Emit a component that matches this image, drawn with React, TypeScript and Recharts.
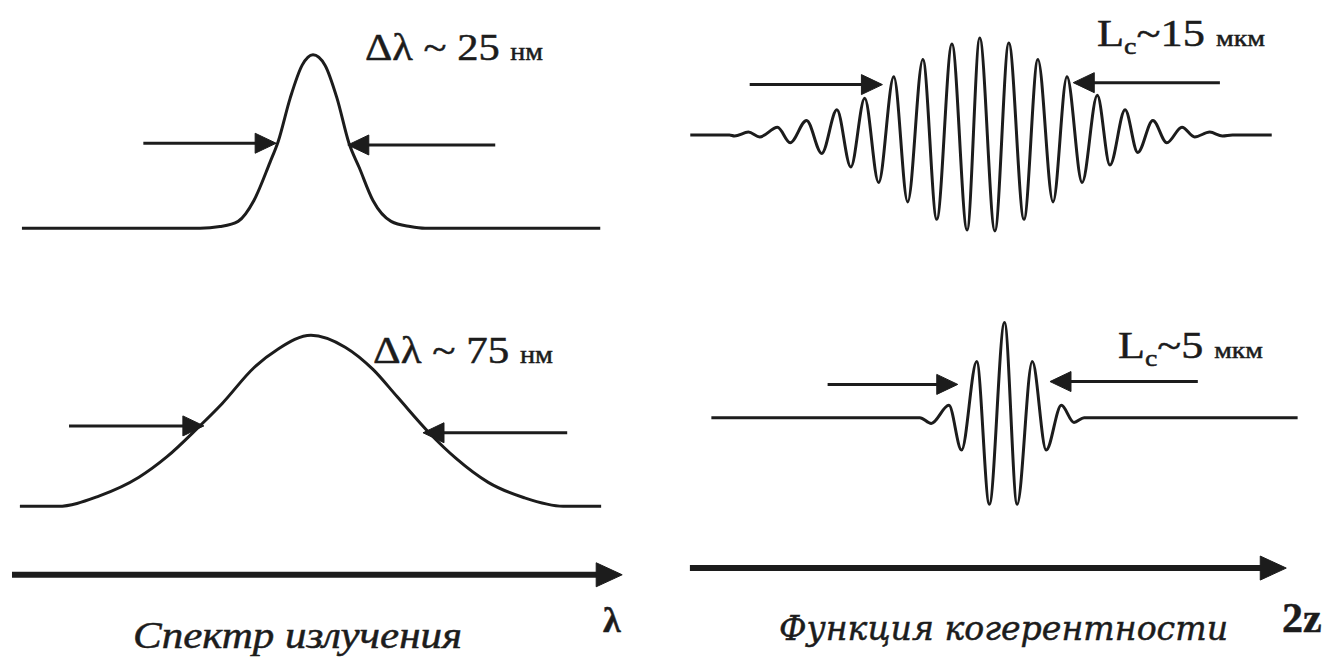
import React from 'react';
import { LineChart, Line, XAxis, YAxis, ReferenceLine } from 'recharts';

// ---- Spectrum, Δλ ~ 25 nm (x: wavelength offset, nm; y: normalised intensity)
const narrowSpecX = [-98.5, -37.6, -30.8, -24.6, -19.2, -13.7, -10.9, -6.8, -2.7, 1.0, 5.1, 9.2, 13.3, 16.8, 21.5, 27.7, 34.2, 39.3, 99.2];
const narrowSpecY = [0, 0, 0.01, 0.04, 0.16, 0.38, 0.5, 0.75, 0.94, 1.0, 0.94, 0.75, 0.49, 0.35, 0.16, 0.04, 0.01, 0, 0];

// ---- Spectrum, Δλ ~ 75 nm
const wideSpecX = [-99.2, -86.2, -72.2, -58.5, -48.9, -38.3, -30.1, -19.2, -10.9, 0.3, 12.0, 21.5, 29.8, 40.7, 49.9, 60.9, 73.2, 86.5, 99.5];
const wideSpecY = [0, 0, 0.06, 0.17, 0.29, 0.46, 0.6, 0.81, 0.92, 1.0, 0.93, 0.8, 0.64, 0.43, 0.28, 0.14, 0.05, 0, 0];

// ---- Coherence function, Lc ~ 15 µm (x: 2z, µm; y: normalised amplitude)
const longCohX = [-23.0, -19.9, -19.5, -18.4, -17.5, -16.1, -15.1, -13.8, -12.6, -11.4, -10.3, -9.2, -8.1, -6.9, -5.8, -4.6, -3.5, -2.3, -1.1, -0.1, 1.1, 2.2, 3.4, 4.5, 5.7, 6.8, 8.0, 9.2, 10.2, 11.4, 12.4, 13.6, 14.7, 15.9, 16.9, 18.1, 19.1, 19.9, 23.0];
const longCohY = [0, 0, -0.01, 0.03, -0.02, 0.08, -0.08, 0.15, -0.19, 0.26, -0.33, 0.38, -0.49, 0.6, -0.69, 0.78, -0.87, 0.94, -0.98, 1.0, -0.99, 0.95, -0.87, 0.78, -0.69, 0.6, -0.49, 0.41, -0.31, 0.26, -0.18, 0.15, -0.08, 0.08, -0.02, 0.03, -0.01, 0, 0];

// ---- Coherence function, Lc ~ 5 µm
const shortCohX = [-23.2, -6.7, -5.8, -4.4, -3.4, -2.2, -1.2, 0, 1.0, 2.2, 3.3, 4.5, 5.5, 6.3, 23.2];
const shortCohY = [0, 0, -0.06, 0.13, -0.34, 0.59, -0.91, 1.0, -0.91, 0.59, -0.34, 0.13, -0.05, 0, 0];

// ---- width markers: [from x, to x (arrow tip), level]
const narrowArrows = [[-57.0, -11.6, 0.49], [63.3, 12.9, 0.48]];
const wideArrows = [[-82.4, -36.3, 0.47], [87.9, 38.6, 0.43]];
const longArrows = [[-18.3, -7.8, 0.52], [18.9, 7.3, 0.54]];
const shortArrows = [[-14.0, -3.7, 0.35], [15.3, 3.6, 0.38]];

// ---- axis arrows: [from x, to x, level]
const lambdaAxis = [-101.9, 106.7, -0.4];
const zAxis = [-24.9, 22.3, -1.58];

// ---- texts
const narrowLabel = ['Δλ ~ 25 ', 'нм'];
const wideLabel = ['Δλ ~ 75 ', 'нм'];
const longLabel = ['L', 'c', '~15 ', 'мкм'];
const shortLabel = ['L', 'c', '~5 ', 'мкм'];
const axisTitles = ['λ', '2z'];
const captions = ['Спектр  излучения', 'Функция когерентности'];

const INK = '#1c1c1c';
const SERIF = '"Times New Roman", Tinos, "Liberation Serif", serif';
const SERIF2 = '"DejaVu Serif", serif';

const arrowShape = (w: number, len: number, half: number) => (props: any) => {
  const x1 = Number(props.x1), y1 = Number(props.y1), x2 = Number(props.x2), y2 = Number(props.y2);
  const dx = x2 - x1, dy = y2 - y1;
  const L = Math.hypot(dx, dy) || 1;
  const ux = dx / L, uy = dy / L;
  const bx = x2 - ux * len, by = y2 - uy * len;
  const px = -uy, py = ux;
  const pts = `${x2},${y2} ${bx + px * half},${by + py * half} ${bx - px * half},${by - py * half}`;
  return (
    <g>
      <line x1={x1} y1={y1} x2={bx + ux * 2} y2={by + uy * 2} stroke={INK} strokeWidth={w} />
      <polygon points={pts} fill={INK} stroke={INK} strokeWidth={1} strokeLinejoin="miter" />
    </g>
  );
};

type PanelProps = {
  xs: number[];
  ys: number[];
  left: number;
  top: number;
  width: number;
  height: number;
  xDomain: [number, number];
  yDomain: [number, number];
  arrows: number[][];
  axis?: number[];
  sw: number;
};

function Panel({ xs, ys, left, top, width, height, xDomain, yDomain, arrows, axis, sw }: PanelProps) {
  const data = xs.map((x, i) => ({ x, y: ys[i] }));
  return (
    <div style={{ position: 'absolute', left, top, width, height }}>
      <LineChart width={width} height={height} data={data} margin={{ top: 0, right: 0, bottom: 0, left: 0 }}>
        <XAxis type="number" dataKey="x" domain={xDomain} hide allowDataOverflow />
        <YAxis type="number" domain={yDomain} hide allowDataOverflow />
        <Line type="monotone" dataKey="y" stroke={INK} strokeWidth={sw} dot={false} isAnimationActive={false} />
        {arrows.map((a, i) => (
          <ReferenceLine
            key={i}
            segment={[{ x: a[0], y: a[2] }, { x: a[1], y: a[2] }]}
            ifOverflow="visible"
            shape={arrowShape(3, 21, 10)}
          />
        ))}
        {axis && (
          <ReferenceLine
            segment={[{ x: axis[0], y: axis[2] }, { x: axis[1], y: axis[2] }]}
            ifOverflow="visible"
            shape={arrowShape(6, 26, 12)}
          />
        )}
      </LineChart>
    </div>
  );
}

export default function App() {
  return (
    <div style={{ position: 'absolute', left: 0, top: 0, width: 1328, height: 660, background: '#fff', overflow: 'hidden' }}>
      <Panel xs={narrowSpecX} ys={narrowSpecY} left={0} top={20} width={626} height={243}
        xDomain={[-106, 108]} yDomain={[-0.2, 1.2]} arrows={narrowArrows} sw={3} />
      <Panel xs={wideSpecX} ys={wideSpecY} left={0} top={301} width={626} height={308}
        xDomain={[-106, 108]} yDomain={[-0.6, 1.2]} arrows={wideArrows} axis={lambdaAxis} sw={3} />
      <Panel xs={longCohX} ys={longCohY} left={665} top={9} width={632} height={252}
        xDomain={[-25, 25]} yDomain={[-1.3, 1.3]} arrows={longArrows} sw={3} />
      <Panel xs={shortCohX} ys={shortCohY} left={676} top={294} width={657} height={295}
        xDomain={[-26, 26]} yDomain={[-1.8, 1.3]} arrows={shortArrows} axis={zAxis} sw={3} />

      <svg width={1328} height={660} style={{ position: 'absolute', left: 0, top: 0, pointerEvents: 'none' }}>
        <g fill={INK} stroke={INK} strokeWidth={0.5} fontFamily={SERIF}>
          <text x={365} y={60} fontSize={38} textLength={178} lengthAdjust="spacingAndGlyphs">
            {narrowLabel[0]}<tspan fontSize={25}>{narrowLabel[1]}</tspan>
          </text>
          <text x={373} y={363} fontSize={38} textLength={180} lengthAdjust="spacingAndGlyphs">
            {wideLabel[0]}<tspan fontSize={25}>{wideLabel[1]}</tspan>
          </text>
          <text x={1097} y={46} fontSize={38} textLength={168} lengthAdjust="spacingAndGlyphs">
            {longLabel[0]}<tspan fontSize={24} dy={8}>{longLabel[1]}</tspan>
            <tspan dy={-8}>{longLabel[2]}</tspan><tspan fontSize={24}>{longLabel[3]}</tspan>
          </text>
          <text x={1118} y={358} fontSize={38} textLength={145} lengthAdjust="spacingAndGlyphs">
            {shortLabel[0]}<tspan fontSize={24} dy={8}>{shortLabel[1]}</tspan>
            <tspan dy={-8}>{shortLabel[2]}</tspan><tspan fontSize={24}>{shortLabel[3]}</tspan>
          </text>
          <text x={603} y={632} fontSize={36} fontWeight="bold">{axisTitles[0]}</text>
          <text x={1282} y={632} fontSize={42} fontWeight="bold">{axisTitles[1]}</text>
          <text x={133} y={648} fontSize={38} fontStyle="italic" textLength={329} lengthAdjust="spacingAndGlyphs">{captions[0]}</text>
          <text x={779} y={640} fontSize={34} fontStyle="italic" fontFamily={SERIF2} textLength={449} lengthAdjust="spacingAndGlyphs">{captions[1]}</text>
        </g>
      </svg>
    </div>
  );
}
